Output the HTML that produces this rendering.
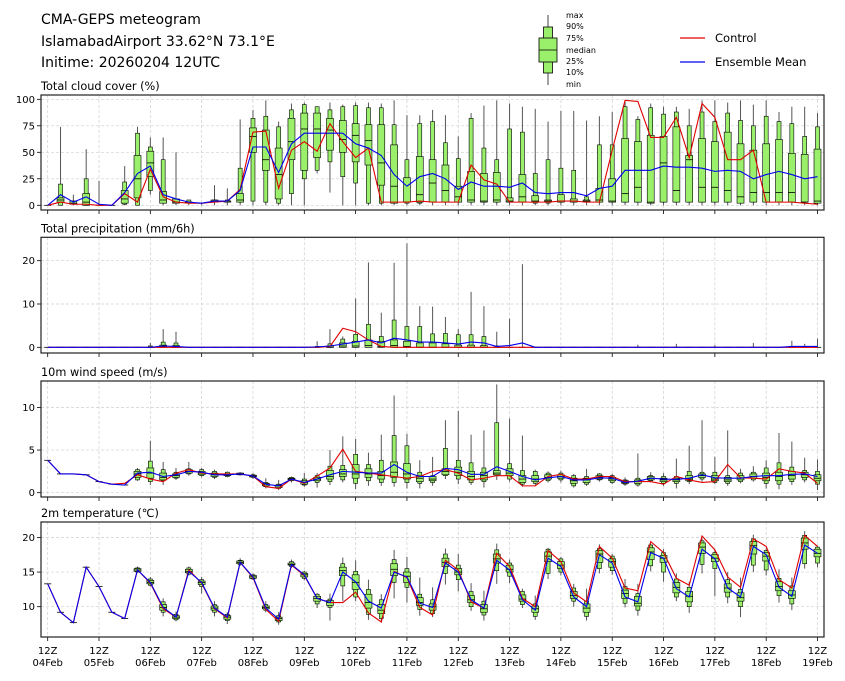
<!DOCTYPE html>
<html><head><meta charset="utf-8"><style>
html,body{margin:0;padding:0;background:#fff;}
svg{display:block;font-family:"DejaVu Sans","Liberation Sans",sans-serif;}
</style></head><body>
<svg id="chart" width="845" height="681" viewBox="0 0 845 681" xmlns="http://www.w3.org/2000/svg">
<g font-size="14" fill="#000">
<text x="41" y="24">CMA-GEPS meteogram</text>
<text x="41" y="46">IslamabadAirport 33.62°N 73.1°E</text>
<text x="41" y="67">Initime: 20260204 12UTC</text>
</g>
<g>
<line x1="548" y1="15" x2="548" y2="85" stroke="#444" stroke-width="1"/>
<rect x="543.5" y="27" width="9" height="46" fill="#9af06a" stroke="#000" stroke-width="0.8"/>
<rect x="539" y="38" width="18" height="24" fill="#9af06a" stroke="#000" stroke-width="0.8"/>
<line x1="539" y1="50" x2="557" y2="50" stroke="#000" stroke-width="0.8"/>
<g font-size="8" fill="#000">
<text x="566" y="18">max</text><text x="566" y="29">90%</text><text x="566" y="41">75%</text><text x="566" y="53">median</text><text x="566" y="64">25%</text><text x="566" y="75">10%</text><text x="566" y="87">min</text>
</g>
</g>
<g font-size="11.5">
<line x1="680" y1="38" x2="705" y2="38" stroke="#e00000" stroke-width="1.2"/>
<text x="715" y="42">Control</text>
<line x1="680" y1="62" x2="705" y2="62" stroke="#0000ee" stroke-width="1.2"/>
<text x="715" y="66">Ensemble Mean</text>
</g>
<g id="plots"></g>
</svg>
<script>
// ---- Cloud cover (%) ----
const cMin=[0,0,0,0,0,0,0,0,10,0,0,0,0,0,0,0,0,0,0,0,0,30,12,0,0,0,0,0,0,0,0,0,0,0,0,0,0,0,0,0,0,0,0,0,0,0,0,0,0,0,0,0,0,0,0,0,0,0,0,0,0];
const cP10=[0,0,1,0,0,0,1,0,14,2,2,2,2,3,3,3,4,3,2,11,25,33,41,27,21,2,2,2,2,2,3,3,3,3,3,3,3,3,2,2,3,3,3,3,3,3,3,2,3,3,3,3,3,3,2,3,3,3,3,3,2];
const cP25=[0,3,1,0,0,0,2,7,27,2,2,2,2,3,3,3,50,33,6,43,33,45,52,50,41,38,19,2,3,3,3,3,3,3,3,3,3,3,3,3,3,3,3,3,3,3,3,2,3,3,3,3,3,3,2,3,3,3,3,3,2];
const cMed=[0,5,2,3,0,0,6,25,40,5,3,3,2,4,4,5,65,43,29,60,72,72,71,62,66,61,40,18,3,10,21,14,8,5,4,5,4,8,4,4,4,4,4,5,4,11,17,3,40,14,43,17,17,14,8,12,12,12,12,3,4];
const cP75=[0,7,4,11,0,0,14,47,51,13,6,3,2,5,4,11,73,71,54,82,87,87,82,80,77,76,76,57,26,46,43,38,18,32,30,31,7,29,9,5,10,6,5,16,25,63,60,66,65,74,47,63,60,69,58,52,58,62,49,48,53];
const cP90=[0,20,4,25,0,0,22,68,55,43,6,5,2,5,5,35,82,84,74,90,95,93,90,93,94,92,92,76,43,77,79,59,44,82,54,43,72,69,30,43,35,33,8,57,57,93,81,92,86,88,75,88,79,87,80,75,84,79,77,65,74];
const cMax=[0,74,10,53,23,0,37,74,64,64,50,5,2,19,16,81,90,99,79,96,97,93,97,95,97,97,96,99,85,85,90,85,65,87,94,99,96,93,91,79,89,89,80,84,88,98,84,96,93,93,91,99,99,97,99,95,99,88,93,93,87];
const cMean=[0,10,3,8,1,0,12,30,37,10,6,3,2,4,4,14,55,55,31,58,68,68,68,68,58,54,47,29,18,27,30,25,15,22,18,18,17,21,12,11,12,12,9,16,18,33,33,33,37,36,36,35,32,33,32,25,29,32,29,25,27];
const cCtrl=[0,3,1,1,0,0,11,3,34,8,3,2,2,3,4,15,69,70,16,52,60,51,77,60,45,54,3,3,3,4,3,3,3,38,24,20,3,3,3,3,4,4,3,3,52,99,98,64,64,83,45,96,83,43,43,52,3,3,3,2,1];
const cTicks=[0,25,50,75,100];

// ---- Precipitation (mm/6h) ----
const pMin=[0,0,0,0,0,0,0,0,0,0,0,0,0,0,0,0,0,0,0,0,0,0,0,0,0,0,0,0,0,0,0,0,0,0,0,0,0,0,0,0,0,0,0,0,0,0,0,0,0,0,0,0,0,0,0,0,0,0,0,0,0];
const pP10=[0,0,0,0,0,0,0,0,0,0,0,0,0,0,0,0,0,0,0,0,0,0,0,0,0,0,0,0,0,0,0,0,0,0,0,0,0,0,0,0,0,0,0,0,0,0,0,0,0,0,0,0,0,0,0,0,0,0,0,0,0];
const pP25=[0,0,0,0,0,0,0,0,0,0,0,0,0,0,0,0,0,0,0,0,0,0,0,0,0,0,0,0,0,0,0,0,0,0,0,0,0,0,0,0,0,0,0,0,0,0,0,0,0,0,0,0,0,0,0,0,0,0,0,0,0];
const pMed=[0,0,0,0,0,0,0,0,0,0.1,0,0,0,0,0,0,0,0,0,0,0,0,0,0.3,0.3,0.4,0.2,0.4,0.2,0,0,0,0,0,0,0,0,0,0,0,0,0,0,0,0,0,0,0,0,0,0,0,0,0,0,0,0,0,0,0,0];
const pP75=[0,0,0,0,0,0,0,0,0,0.5,0.4,0,0,0,0,0,0,0,0,0,0,0,0.3,1.0,1.4,1.7,1.4,1.7,1.4,1.0,1.0,0.8,0.5,0.5,0.4,0,0,0,0,0,0,0,0,0,0,0,0,0,0,0,0,0,0,0,0,0,0,0,0,0,0];
const pP90=[0,0,0,0,0,0,0,0,0.3,1.2,1.0,0,0,0,0,0,0,0,0,0,0,0.2,0.8,1.9,3.0,5.3,2.5,6.3,4.8,4.8,3.1,3.2,2.9,2.9,2.5,0.3,0,0,0,0,0,0,0,0,0,0,0,0,0,0,0,0,0,0,0,0,0,0,0,0,0];
const pMax=[0,0,0,0,0,0,0,0,1.0,4.2,3.6,0,0,0,0,0,0,0,0,0,0,1.4,4.2,2.5,11.3,19.6,8,19.5,24,9.5,9.4,7,4.2,12.8,9.5,3.6,6.6,19.2,0,0,0,0,0,0,0,0,0.6,0,0,0.8,0,0,0.5,0,0,1.0,0,0,1.5,0.8,2.0];
const pMean=[0,0,0,0,0,0,0,0,0,0.3,0.2,0,0,0,0,0,0,0,0,0,0,0.1,0.3,0.75,1.2,1.7,1.0,2.1,1.7,1.2,1.2,1.0,0.75,1.2,1.0,0.2,0.4,1.0,0,0,0,0,0,0,0,0,0,0,0,0,0,0,0,0,0,0,0,0,0.2,0.2,0.2];
const pCtrl=[0,0,0,0,0,0,0,0,0,0,0,0,0,0,0,0,0,0,0,0,0,0,0.2,4.4,3.6,1.7,0.2,0,0,0,0,0,0,0,0,0,0,0,0,0,0,0,0,0,0,0,0,0,0,0,0,0,0,0,0,0,0,0,0,0,0];
const pTicks=[0,10,20];

// ---- 10m wind speed (m/s) ----
const wMin=[3.8,2.2,2.2,2.1,1.3,1.0,0.9,1.4,0.9,0.9,1.5,2.0,1.8,1.6,1.8,2.0,1.6,0.5,0.3,1.2,0.7,0.6,0.9,1.2,0.4,0.8,0.8,0.7,0.5,0.5,0.8,1.6,1.0,0.9,0.6,1.5,1.3,0.7,0.9,1.2,1.2,0.6,0.8,1.3,1.0,0.8,0.7,1.2,0.8,0.5,1.0,1.3,1.0,0.8,1.1,1.3,0.5,0.4,0.9,1.2,0.3];
const wP10=[3.8,2.2,2.2,2.1,1.3,1.0,0.9,1.5,1.3,1.4,1.7,2.2,2.0,1.8,1.9,2.1,1.8,0.7,0.5,1.4,0.9,1.2,1.3,1.5,1.1,1.4,1.2,1.2,1.2,1.1,1.2,2.0,1.6,1.2,1.3,2.0,1.6,1.0,1.1,1.4,1.5,0.8,1.0,1.5,1.2,1.0,0.9,1.4,1.1,1.1,1.3,1.6,1.2,1.1,1.3,1.5,1.1,1.0,1.3,1.5,1.0];
const wP25=[3.8,2.2,2.2,2.1,1.3,1.0,0.9,1.8,1.7,1.5,1.8,2.3,2.1,1.9,2.0,2.1,1.85,0.8,0.6,1.5,1.0,1.4,1.6,1.9,1.7,1.8,1.6,1.8,1.6,1.3,1.4,2.1,2.0,1.5,1.5,2.1,2.0,1.2,1.3,1.6,1.7,1.1,1.2,1.6,1.4,1.1,1.1,1.5,1.3,1.3,1.4,1.8,1.4,1.3,1.5,1.7,1.4,1.4,1.6,1.8,1.4];
const wMed=[3.8,2.2,2.2,2.1,1.3,1.0,0.9,2.2,2.3,1.8,2.0,2.5,2.3,2.1,2.1,2.2,1.95,1.0,0.8,1.6,1.2,1.6,1.9,2.2,2.2,2.2,2.0,2.4,2.2,1.7,1.6,2.5,2.4,1.9,2.0,2.3,2.3,1.6,1.6,1.8,1.9,1.4,1.5,1.8,1.6,1.2,1.3,1.7,1.5,1.5,1.6,2.0,1.6,1.5,1.7,1.9,1.8,1.9,2.0,2.1,1.7];
const wP75=[3.8,2.2,2.2,2.1,1.3,1.0,0.9,2.5,2.9,2.3,2.2,2.7,2.5,2.3,2.2,2.3,2.05,1.1,0.9,1.7,1.4,1.8,2.6,2.7,3.3,2.8,2.5,3.6,3.4,2.0,1.9,2.8,3.0,2.5,2.4,2.6,2.8,2.0,2.0,2.1,2.1,1.7,1.7,2.0,1.8,1.4,1.5,1.9,1.7,1.7,2.0,2.2,2.0,1.8,2.0,2.2,2.3,2.4,2.5,2.4,2.1];
const wP90=[3.8,2.2,2.2,2.1,1.3,1.0,0.9,2.7,3.7,2.7,2.4,2.8,2.7,2.5,2.4,2.3,2.1,1.2,1.0,1.8,1.6,2.0,3.1,3.2,4.5,3.3,3.8,6.7,5.5,2.4,2.0,5.2,3.8,3.5,2.9,8.2,3.4,2.6,2.5,2.3,2.3,2.0,1.9,2.2,2.0,1.5,1.7,2.0,1.9,1.9,2.5,2.4,2.4,2.0,2.3,2.4,2.9,3.5,3.0,2.6,2.5];
const wMax=[3.8,2.2,2.2,2.1,1.3,1.0,0.9,2.9,6.1,3.6,2.9,3.6,2.9,2.7,2.5,2.4,2.3,1.7,1.5,1.9,2.3,2.3,5.0,6.6,6.3,4.7,6.8,11.4,6.9,3.8,4.2,8.5,9.6,6.8,7.3,12.7,8.7,6.7,2.7,2.5,2.6,2.2,2.8,2.3,2.2,1.8,4.6,2.4,2.3,4.0,5.5,8.5,4.2,7.3,2.8,3.1,3.8,7.0,6.0,4.1,3.9];
const wMean=[3.8,2.2,2.2,2.1,1.3,1.0,0.9,2.3,2.4,1.9,2.1,2.5,2.4,2.1,2.1,2.2,1.95,1.0,0.8,1.6,1.2,1.6,2.1,2.5,2.4,2.3,2.3,3.3,2.4,1.9,1.9,2.85,2.7,2.15,2.15,3.05,2.5,1.9,1.5,1.75,1.9,1.5,1.5,1.75,1.7,1.2,1.35,1.7,1.6,1.55,1.7,2.1,1.75,1.7,1.7,1.9,2.0,2.0,2.15,2.2,1.9];
const wCtrl=[3.8,2.2,2.2,2.1,1.3,1.0,1.1,2.1,1.6,1.3,2.3,2.7,2.3,2.2,2.2,2.2,1.95,0.7,0.5,1.6,1.1,1.95,2.9,5.1,2.5,2.3,2.1,1.9,1.7,1.9,2.5,2.7,2.3,1.5,1.7,2.0,2.0,0.8,0.8,1.9,2.15,1.6,1.6,1.9,1.9,1.3,1.3,1.3,1.0,1.9,1.5,1.2,1.3,3.3,1.75,1.7,1.6,2.8,2.5,2.3,1.1];
const wTicks=[0,5,10];

// ---- 2m temperature (°C) ----
const tMin=[13.3,9.2,7.7,15.7,12.9,9.2,8.3,14.9,12.9,8.6,7.9,14.5,11.9,8.6,7.5,15.9,13.9,9.2,7.4,15.6,13.8,9.8,8.0,10.8,10.8,8.1,7.7,11.2,10.6,8.7,8.5,13.2,12.2,9.4,8.0,13.3,13.4,9.8,8.1,14.0,14.5,10.0,8.0,14.8,14.6,9.9,8.7,15.1,13.6,10.8,9.1,14.8,11.5,10.5,8.5,15.0,14.5,10.6,9.5,15.5,15.7];
const tP10=[13.3,9.2,7.7,15.7,12.9,9.2,8.3,15.0,13.1,9.2,8.1,14.7,12.9,9.2,8.0,16.1,14.0,9.5,7.8,15.8,14.1,10.4,9.9,13.0,11.4,8.9,8.3,13.5,12.8,9.6,9.0,14.8,13.9,10.0,8.8,15.2,14.4,10.3,8.6,14.8,15.0,10.8,8.6,15.5,15.2,10.5,9.5,15.9,15.0,11.4,10.0,16.1,15.5,11.4,10.0,16.0,15.3,11.6,10.4,16.2,16.3];
const tP25=[13.3,9.2,7.7,15.7,12.9,9.2,8.3,15.1,13.3,9.5,8.3,14.9,13.2,9.5,8.2,16.2,14.1,9.7,8.0,16.0,14.3,10.8,10.2,14.5,12.5,9.8,9.0,14.5,13.5,10.2,9.5,15.8,14.6,10.6,9.2,16.3,15.0,10.8,9.2,16.5,15.5,11.2,9.2,16.4,15.7,11.2,10.1,16.8,16.4,12.0,10.7,17.7,16.5,12.1,10.8,17.6,16.6,12.3,11.2,18.3,17.2];
const tMed=[13.3,9.2,7.7,15.7,12.9,9.2,8.3,15.3,13.5,9.9,8.5,15.1,13.5,9.8,8.5,16.4,14.3,9.9,8.3,16.1,14.6,11.2,10.6,15.2,13.5,10.6,9.5,15.4,14.4,10.6,10.0,16.4,15.0,11.0,9.7,16.9,15.4,11.1,9.7,17.3,16.0,11.6,9.8,17.6,16.5,11.9,10.5,17.9,17.0,12.8,11.5,18.6,17.0,12.7,11.3,18.8,17.3,12.9,11.7,19.2,17.7];
const tP75=[13.3,9.2,7.7,15.7,12.9,9.2,8.3,15.5,13.8,10.3,8.7,15.4,13.7,10.1,8.7,16.6,14.5,10.1,8.5,16.3,14.8,11.5,10.9,15.7,14.6,11.8,10.3,16.2,15.0,11.3,10.4,17.0,15.5,11.6,10.3,17.6,16.0,11.7,10.1,17.9,16.5,12.2,10.4,18.1,16.9,12.4,11.5,18.5,17.4,13.5,12.2,19.2,17.5,13.3,12.0,19.4,17.8,13.6,12.3,19.9,18.3];
const tP90=[13.3,9.2,7.7,15.7,12.9,9.2,8.3,15.6,14.0,10.7,8.9,15.6,13.9,10.3,8.9,16.7,14.6,10.3,8.7,16.5,15.0,11.8,11.1,16.2,15.1,12.5,11.0,16.8,15.5,11.8,11.0,17.6,16.0,12.2,10.8,18.2,16.3,12.2,10.4,18.3,16.9,12.7,10.8,18.4,17.3,12.9,11.9,18.9,17.8,14.0,12.8,19.5,17.8,13.9,12.5,19.8,18.1,14.1,13.0,20.3,18.6];
const tMax=[13.3,9.2,7.7,15.7,12.9,9.2,8.3,15.8,14.3,11.2,9.3,15.8,14.3,10.8,9.2,17.0,14.8,10.8,9.2,16.8,15.2,12.0,11.9,17.1,16.7,13.9,11.8,18.2,17.2,14.2,12.8,18.4,17.6,13.4,12.3,19.1,16.8,12.6,11.6,18.5,17.2,13.3,12.6,19.0,17.6,14.0,13.3,19.1,18.3,14.8,13.6,19.9,18.2,15.0,14.2,20.4,18.4,15.4,14.2,20.9,18.8];
const tMean=[13.3,9.2,7.7,15.7,12.9,9.2,8.3,15.3,13.5,9.9,8.5,15.1,13.5,9.8,8.5,16.4,14.3,9.8,8.2,16.1,14.6,11.2,10.6,15.0,13.6,10.8,9.8,15.0,14.3,10.5,9.9,16.3,15.0,11.0,9.8,16.7,15.3,11.0,9.5,17.0,15.8,11.4,10.0,17.5,16.3,11.4,10.7,17.8,17.0,12.6,11.4,18.3,16.9,12.7,11.4,18.7,17.5,12.8,11.5,18.9,17.7];
const tCtrl=[13.3,9.2,7.7,15.7,12.9,9.2,8.3,15.3,13.4,9.7,8.5,15.3,13.4,9.7,8.4,16.4,14.2,9.6,7.9,16.0,14.5,11.2,10.6,10.6,12.1,9.1,7.8,15.1,14.2,9.9,8.8,16.7,15.3,10.7,9.8,17.7,15.8,11.2,10.0,18.1,16.5,12.0,10.7,18.7,17.0,12.7,12.3,19.4,17.8,14.1,13.1,20.2,18.2,14.3,12.8,19.8,18.7,13.9,12.7,20.3,18.7];
const tTicks=[10,15,20];

// x-axis labels (one per day, every 4th step)
const dayLabels=["04Feb","05Feb","06Feb","07Feb","08Feb","09Feb","10Feb","11Feb","12Feb","13Feb","14Feb","15Feb","16Feb","17Feb","18Feb","19Feb"];

const NS="http://www.w3.org/2000/svg";
const plots=document.getElementById('plots');
const L=41,R=824;
function X(i){return 47.7+i*12.83;}
function mk(tag,attrs,parent){const e=document.createElementNS(NS,tag);for(const k in attrs)e.setAttribute(k,attrs[k]);parent.appendChild(e);return e;}

const panels=[
 {key:'cloud',title:'Total cloud cover (%)',top:95,bottom:210,zero:205.3,slope:1.06,ticks:cTicks,
  q:[cMin,cP10,cP25,cMed,cP75,cP90,cMax],mean:cMean,ctrl:cCtrl},
 {key:'precip',title:'Total precipitation (mm/6h)',top:237.3,bottom:353,zero:347.3,slope:4.33,ticks:pTicks,
  q:[pMin,pP10,pP25,pMed,pP75,pP90,pMax],mean:pMean,ctrl:pCtrl},
 {key:'wind',title:'10m wind speed (m/s)',top:381,bottom:497,zero:492.7,slope:8.53,ticks:wTicks,
  q:[wMin,wP10,wP25,wMed,wP75,wP90,wMax],mean:wMean,ctrl:wCtrl},
 {key:'temp',title:'2m temperature (\u2103)',top:522,bottom:637,zero:606.7+10*6.93,slope:6.93,ticks:tTicks,
  q:[tMin,tP10,tP25,tMed,tP75,tP90,tMax],mean:tMean,ctrl:tCtrl}
];

panels.forEach((p,pi)=>{
  const Y=v=>p.zero-v*p.slope;
  const g=mk('g',{},plots);
  
  
  const t=mk('text',{x:L,y:p.top-5,'font-size':11.3,fill:'#000'},g);
  t.textContent=p.title;
  
  
  // grid
  const grid=mk('g',{stroke:'#cfcfcf','stroke-width':0.7,'stroke-dasharray':'3,2'},g);
  
  
  for(let d=0;d<dayLabels.length;d++){mk('line',{x1:X(d*4),x2:X(d*4),y1:p.top,y2:p.bottom},grid);}
  p.ticks.forEach(v=>{mk('line',{x1:L,x2:R,y1:Y(v),y2:Y(v)},grid);});
  // y ticks
  const yax=mk('g',{'font-size':10,fill:'#000'},g);
  
  
  p.ticks.forEach(v=>{
    mk('line',{x1:L-4,x2:L,y1:Y(v),y2:Y(v),stroke:'#000','stroke-width':0.8},yax);
    const tt=mk('text',{x:L-6,y:Y(v)+3.5,'text-anchor':'end'},yax);
    tt.textContent=v;
  });
  // x ticks
  const xax=mk('g',{'font-size':10,fill:'#000'},g);
  
  
  for(let d=0;d<dayLabels.length;d++){
    mk('line',{x1:X(d*4),x2:X(d*4),y1:p.bottom,y2:p.bottom+4,stroke:'#000','stroke-width':0.8},xax);
    if(pi===3){
      const a=mk('text',{x:X(d*4),y:p.bottom+17,'text-anchor':'middle'},xax);a.textContent='12Z';
      const b=mk('text',{x:X(d*4),y:p.bottom+29,'text-anchor':'middle'},xax);b.textContent=dayLabels[d];
    }
  }
  // boxes
  const bx=mk('g',{},g);
  
  
  const q=p.q;
  for(let i=0;i<q[0].length;i++){
    const x=X(i);
    const b=mk('g',{},bx);
    
    
    if(q[6][i]>q[0][i]) mk('line',{x1:x,x2:x,y1:Y(q[0][i]),y2:Y(q[6][i]),stroke:'#555','stroke-width':1},b);
    const h1=Math.max(0,Y(q[1][i])-Y(q[5][i]));
    if(h1>0) mk('rect',{x:x-2,y:Y(q[5][i]),width:4,height:h1,fill:'#9af06a',stroke:'#000','stroke-width':0.6},b);
    const h2=Math.max(0,Y(q[2][i])-Y(q[4][i]));
    if(h2>0) mk('rect',{x:x-3.5,y:Y(q[4][i]),width:7,height:h2,fill:'#9af06a',stroke:'#000','stroke-width':0.6},b);
    mk('line',{x1:x-3.5,x2:x+3.5,y1:Y(q[3][i]),y2:Y(q[3][i]),stroke:'#000','stroke-width':0.8},b);
  }
  // lines
  const ctrl=mk('polyline',{points:p.ctrl.map((v,i)=>X(i)+','+Y(v)).join(' '),fill:'none',stroke:'#e00000','stroke-width':1.1},g);
  
  
  const mean=mk('polyline',{points:p.mean.map((v,i)=>X(i)+','+Y(v)).join(' '),fill:'none',stroke:'#0000ee','stroke-width':1.1},g);
  
  
  // frame
  const fr=mk('rect',{x:L,y:p.top,width:R-L,height:p.bottom-p.top,fill:'none',stroke:'#222','stroke-width':1.2},g);
  
  
});
</script>
</body></html>
